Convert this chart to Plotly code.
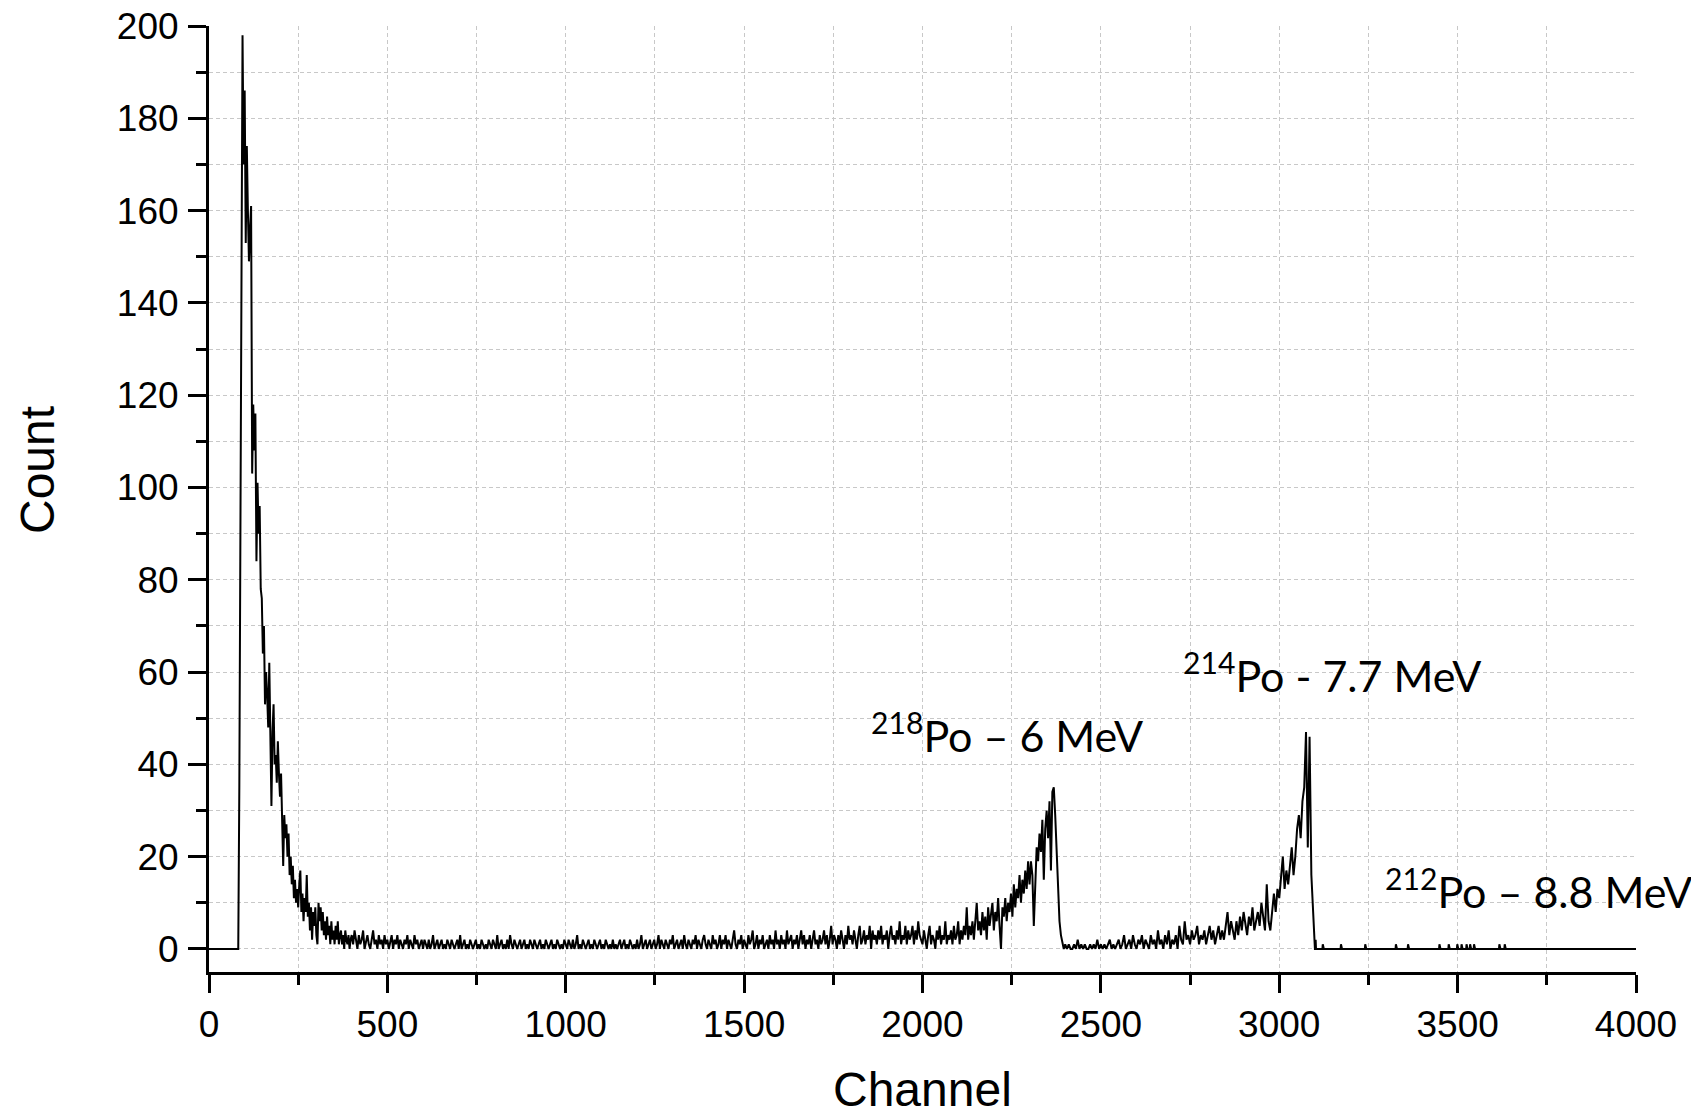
import plotly.graph_objects as go

# ---------------- data (counts per channel) ----------------
lead_channels = [0]
lead_counts = [0]

# steep low-energy edge and decay, channels 82 -> 400
rise_start, rise_end = 82, 400
rise_counts = [
    0, 35, 100, 150, 198, 170, 186, 153, 174, 160,
    149, 156, 161, 103, 118, 108, 116, 84, 101, 90,
    96, 78, 76, 64, 70, 53, 60, 55, 48, 62,
    44, 31, 47, 53, 40, 42, 36, 45, 38, 33,
    38, 30, 18, 29, 24, 27, 20, 25, 16, 20,
    14, 18, 11, 15, 10, 13, 9, 14, 17, 8,
    12, 6, 11, 8, 16, 7, 10, 4, 9, 2,
    8, 5, 9, 3, 1, 10, 6, 9, 4, 8,
    3, 6, 2, 7, 3, 5, 1, 6, 2, 4,
    1, 5, 2, 6, 1, 3, 4, 1, 3, 0,
    4, 2, 1, 3, 0, 2,
]

# flat continuum, channels 400 -> 2000
flat_start, flat_end = 400, 2000
flat_counts = [
    3, 1, 4, 2, 0, 3, 1, 2, 4, 0,
    2, 3, 1, 0, 2, 4, 1, 2, 0, 3,
    1, 2, 0, 3, 1, 2, 0, 2, 3, 0,
    2, 1, 3, 0, 2, 1, 0, 2, 1, 3,
    0, 2, 1, 0, 3, 1, 2, 0, 1, 2,
    0, 2, 1, 0, 2, 0, 1, 3, 0, 1,
    2, 0, 1, 2, 0, 1, 0, 2, 1, 0,
    2, 1, 0, 1, 2, 0, 3, 0, 1, 2,
    0, 1, 0, 2, 1, 0, 1, 2, 0, 1,
    0, 2, 1, 0, 1, 0, 2, 1, 0, 2,
    1, 0, 3, 0, 1, 2, 0, 1, 0, 2,
    0, 3, 1, 0, 2, 1, 0, 1, 2, 0,
    1, 2, 0, 1, 0, 2, 1, 0, 2, 1,
    0, 1, 2, 0, 1, 0, 2, 1, 0, 1,
    2, 0, 1, 0, 2, 1, 0, 1, 0, 2,
    1, 0, 2, 1, 0, 2, 0, 1, 3, 0,
    1, 0, 2, 1, 0, 1, 2, 0, 1, 0,
    2, 1, 0, 1, 2, 0, 1, 0, 2, 1,
    0, 1, 0, 2, 0, 1, 0, 1, 2, 0,
    1, 2, 0, 1, 0, 2, 1, 0, 1, 0,
    2, 0, 1, 3, 0, 1, 2, 0, 1, 2,
    0, 1, 2, 0, 1, 3, 0, 2, 1, 0,
    2, 1, 0, 2, 1, 3, 0, 1, 2, 0,
    1, 2, 0, 3, 1, 0, 2, 1, 0, 2,
    1, 3, 0, 2, 1, 0, 2, 3, 1, 0,
    2, 1, 0, 3, 1, 2, 0, 1, 3, 0,
    2, 1, 3, 0, 2, 1, 0, 2, 4, 1,
    0, 2, 1, 3, 0, 2, 1, 0, 3, 1,
    2, 4, 0, 1, 3, 0, 2, 1, 3, 0,
    1, 2, 0, 3, 1, 2, 0, 4, 1, 2,
    0, 3, 1, 2, 0, 4, 1, 2, 3, 0,
    2, 1, 3, 0, 2, 4, 1, 3, 0, 2,
    1, 3, 0, 2, 4, 1, 2, 0, 3, 1,
    2, 4, 1, 3, 0, 2, 5, 1, 3, 2,
    0, 3, 1, 4, 2, 0, 3, 1, 5, 2,
    3, 1, 4, 2, 0, 3, 5, 1, 2, 4,
    1, 3, 2, 5, 0, 4, 2, 3, 1, 4,
    2, 5, 1, 3, 2, 4, 0, 3, 5, 2,
    3, 1, 4, 2, 6, 1, 3, 2, 5, 1,
    4, 2, 3, 5, 1, 4, 2, 6, 3, 2,
]

# 218Po peak, channels 2000 -> 2400
po218_start, po218_end = 2000, 2400
po218_counts = [
    1, 4, 2, 0, 3, 5, 1, 3, 2, 0,
    4, 2, 5, 1, 3, 2, 6, 1, 3, 2,
    4, 1, 5, 2, 3, 6, 1, 4, 2, 5,
    3, 9, 2, 5, 3, 6, 2, 7, 10, 4,
    6, 3, 8, 4, 7, 2, 9, 5, 8, 10,
    4, 8, 6, 11, 5, 0, 9, 7, 11, 6,
    10, 8, 12, 7, 14, 9, 13, 11, 16, 10,
    15, 12, 17, 13, 19, 14, 19, 16, 5, 16,
    22, 19, 25, 21, 28, 15, 26, 30, 24, 32,
    17, 34, 35, 29, 20, 12, 6, 3, 1, 0,
]

# 214Po peak, channels 2400 -> 3100
po214_start, po214_end = 2400, 3100
po214_counts = [
    1, 0, 1, 0, 0, 1, 0, 2, 0, 1,
    0, 1, 0, 0, 1, 0, 1, 0, 2, 0,
    1, 0, 1, 0, 1, 2, 0, 1, 0, 1,
    2, 0, 1, 3, 0, 1, 2, 0, 3, 1,
    0, 2, 1, 3, 0, 2, 1, 0, 3, 1,
    2, 0, 4, 1, 2, 0, 3, 1, 4, 0,
    2, 1, 3, 0, 5, 2, 1, 6, 2, 3,
    1, 4, 2, 3, 5, 1, 3, 2, 4, 1,
    3, 5, 2, 4, 1, 3, 5, 2, 4, 2,
    5, 8, 3, 6, 4, 2, 6, 3, 7, 4,
    8, 5, 3, 7, 5, 9, 4, 6, 8, 5,
    10, 7, 4, 14, 6, 4, 9, 12, 8, 13,
    11, 15, 20, 13, 17, 14, 19, 22, 16, 20,
    26, 29, 24, 32, 35, 47, 22, 46, 16, 6,
]

# high-energy tail (212Po region), channels 3100 -> 4000: zero except these
tail_start, tail_end = 3100, 4000
tail_spike_channels = [3102, 3122, 3173, 3241, 3327, 3361, 3449, 3475,
                       3499, 3511, 3525, 3535, 3546, 3617, 3632]
tail_spike_counts = [2, 1, 1, 1, 1, 1, 1, 1, 1, 1, 1, 1, 1, 1, 1]

peak_labels = ["<sup>218</sup>Po – 6 MeV",
               "<sup>214</sup>Po - 7.7 MeV",
               "<sup>212</sup>Po – 8.8 MeV"]
peak_label_channels = [1849, 2724, 3291]
peak_label_counts = [46.8, 59.8, 13.2]

x_tickvals = [0, 500, 1000, 1500, 2000, 2500, 3000, 3500, 4000]
y_tickvals = [0, 20, 40, 60, 80, 100, 120, 140, 160, 180, 200]

# ---------------- assemble ----------------
def spread(start, end, values):
    step = (end - start) / len(values)
    return [start + i * step for i in range(len(values))], list(values)

channels, counts = list(lead_channels), list(lead_counts)
for s, e, v in [(rise_start, rise_end, rise_counts),
                (flat_start, flat_end, flat_counts),
                (po218_start, po218_end, po218_counts),
                (po214_start, po214_end, po214_counts)]:
    cx, cy = spread(s, e, v)
    channels += cx
    counts += cy

spikes = dict(zip(tail_spike_channels, tail_spike_counts))
for c in range(tail_start, tail_end + 1):
    channels.append(c)
    counts.append(spikes.get(c, 0))

fig = go.Figure()
fig.add_trace(go.Scatter(x=channels, y=counts, mode="lines",
                         line=dict(color="black", width=2),
                         showlegend=False, hoverinfo="skip"))

for txt, cx, cy in zip(peak_labels, peak_label_channels, peak_label_counts):
    fig.add_annotation(x=cx, y=cy, xref="x", yref="y", text=txt,
                       showarrow=False, xanchor="left", yanchor="middle",
                       font=dict(family="Lato", size=43, color="black"))

tick_font = dict(family="Liberation Sans, Arial", size=37, color="black")
title_font = dict(family="Liberation Sans, Arial", size=48, color="black")
grid_color = "#c8c8c8"

# axis titles
fig.add_annotation(text="Channel", xref="paper", yref="paper", x=0.5, y=-0.1247,
                   xanchor="center", yanchor="middle", showarrow=False,
                   font=title_font)
fig.add_annotation(text="Count", xref="paper", yref="paper", x=-0.1198, y=0.5307,
                   xanchor="center", yanchor="middle", showarrow=False,
                   textangle=-90, font=title_font)

fig.update_xaxes(range=[0, 4000], tickvals=x_tickvals, automargin=False,
                 showline=True, linecolor="black", linewidth=3,
                 ticks="outside", ticklen=18, tickwidth=3, tickcolor="black",
                 showgrid=False, zeroline=False, tickfont=tick_font,
                 ticklabelstandoff=0, ticklabeloverflow="allow",
                 minor=dict(dtick=250, tick0=0, ticks="outside", ticklen=10,
                            tickwidth=3, tickcolor="black", showgrid=True,
                            gridcolor=grid_color, gridwidth=1, griddash="4px,3px"))
fig.update_yaxes(range=[-5, 200], tickvals=y_tickvals, automargin=False,
                 showline=True, linecolor="black", linewidth=3,
                 ticks="outside", ticklen=18, tickwidth=3, tickcolor="black",
                 showgrid=False, zeroline=False, tickfont=tick_font,
                 ticklabelstandoff=2, ticklabeloverflow="allow",
                 minor=dict(dtick=10, tick0=0, ticks="outside", ticklen=10,
                            tickwidth=3, tickcolor="black", showgrid=True,
                            gridcolor=grid_color, gridwidth=1, griddash="4px,3px"))

# the page body adds an 8px offset; margins compensate so the plot area
# lands where the reference has it
fig.update_layout(width=1699, height=1116, autosize=False,
                  margin=dict(l=201, r=71, t=18, b=152),
                  plot_bgcolor="white", paper_bgcolor="white")

fig.write_html("out.html")
